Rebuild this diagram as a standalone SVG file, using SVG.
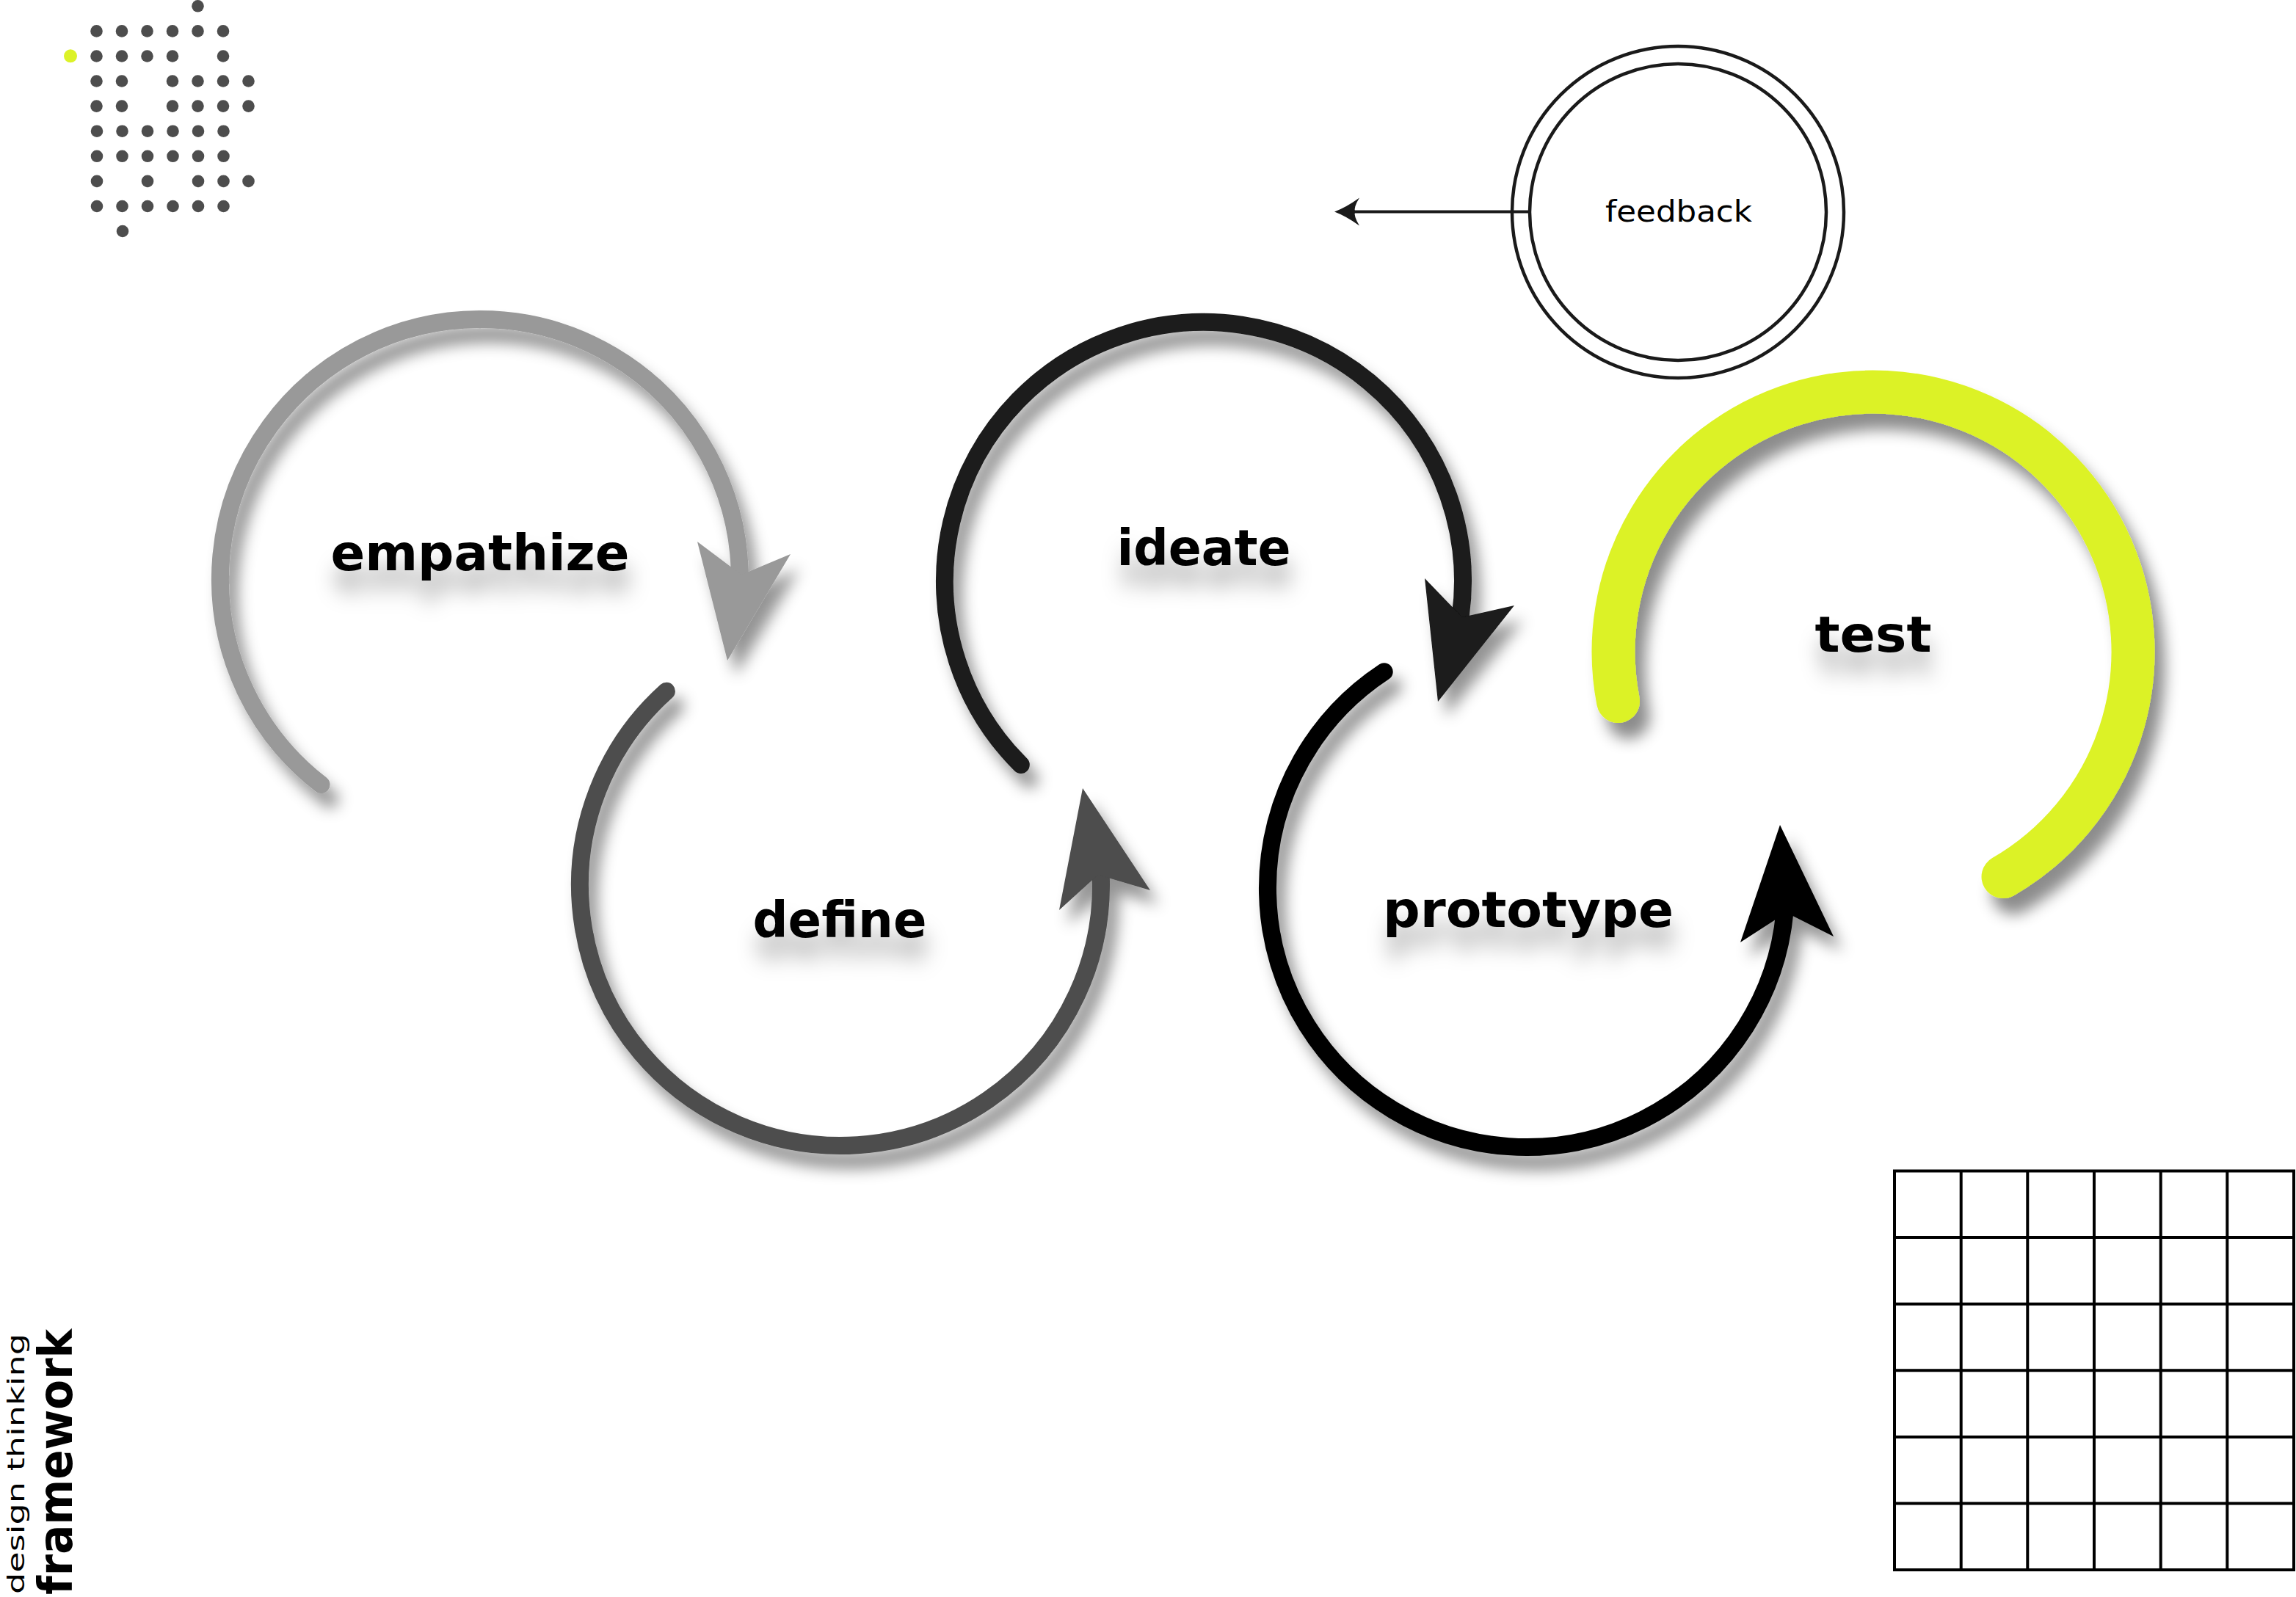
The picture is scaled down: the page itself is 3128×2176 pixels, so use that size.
<svg xmlns="http://www.w3.org/2000/svg" width="3128" height="2176" viewBox="0 0 3128 2176">
<style>
.dot{fill:#4d4d4d}
.arc{fill:none;stroke-width:24;stroke-linecap:round}
.lbl{font-family:"DejaVu Sans","Liberation Sans",sans-serif;font-weight:bold;font-size:68px;fill:#000;text-anchor:middle}
.ring{fill:none;stroke:#1a1a1a;stroke-width:4.5}
.grid{fill:none;stroke:#000;stroke-width:4}
</style>
<defs>
<filter id="sh" x="-20%" y="-20%" width="150%" height="150%">
<feDropShadow dx="12" dy="20" stdDeviation="10" flood-color="#000" flood-opacity="0.42"/>
</filter>
<filter id="shT" x="-20%" y="-20%" width="150%" height="150%">
<feDropShadow dx="14" dy="22" stdDeviation="10" flood-color="#000" flood-opacity="0.45"/>
</filter>
<filter id="tsh" x="-30%" y="-100%" width="160%" height="400%">
<feDropShadow dx="4" dy="30" stdDeviation="14" flood-color="#000" flood-opacity="0.3"/>
</filter>
<marker id="fbArrow" markerUnits="userSpaceOnUse" markerWidth="40" markerHeight="44" viewBox="-14 -22 40 44" refX="0" refY="0" orient="auto" overflow="visible">
<path d="M22,0 Q6,-6 -12,-19 Q-4,-6 -6,0 Q-4,6 -12,19 Q6,6 22,0 Z" fill="#1a1a1a"/>
</marker>
</defs>
<rect width="3128" height="2176" fill="#fff"/>

<g id="dots">
<circle cx="96" cy="76.3" r="9" fill="#dcf228"/>
<circle class="dot" cx="269.5" cy="8.3" r="8.3"/>
<circle class="dot" cx="131.5" cy="42.4" r="8.3"/><circle class="dot" cx="166" cy="42.4" r="8.3"/><circle class="dot" cx="200.5" cy="42.4" r="8.3"/><circle class="dot" cx="235" cy="42.4" r="8.3"/><circle class="dot" cx="269.5" cy="42.4" r="8.3"/><circle class="dot" cx="304" cy="42.4" r="8.3"/>
<circle class="dot" cx="131.5" cy="76.5" r="8.3"/><circle class="dot" cx="166" cy="76.5" r="8.3"/><circle class="dot" cx="200.5" cy="76.5" r="8.3"/><circle class="dot" cx="235" cy="76.5" r="8.3"/><circle class="dot" cx="304" cy="76.5" r="8.3"/>
<circle class="dot" cx="131.5" cy="110.5" r="8.3"/><circle class="dot" cx="166" cy="110.5" r="8.3"/><circle class="dot" cx="235" cy="110.5" r="8.3"/><circle class="dot" cx="269.5" cy="110.5" r="8.3"/><circle class="dot" cx="304" cy="110.5" r="8.3"/><circle class="dot" cx="338.5" cy="110.5" r="8.3"/>
<circle class="dot" cx="131.5" cy="144.6" r="8.3"/><circle class="dot" cx="166" cy="144.6" r="8.3"/><circle class="dot" cx="235" cy="144.6" r="8.3"/><circle class="dot" cx="269.5" cy="144.6" r="8.3"/><circle class="dot" cx="304" cy="144.6" r="8.3"/><circle class="dot" cx="338.5" cy="144.6" r="8.3"/>
<circle class="dot" cx="132" cy="178.7" r="8.3"/><circle class="dot" cx="166.5" cy="178.7" r="8.3"/><circle class="dot" cx="201" cy="178.7" r="8.3"/><circle class="dot" cx="235.5" cy="178.7" r="8.3"/><circle class="dot" cx="270" cy="178.7" r="8.3"/><circle class="dot" cx="304.5" cy="178.7" r="8.3"/>
<circle class="dot" cx="132" cy="212.8" r="8.3"/><circle class="dot" cx="166.5" cy="212.8" r="8.3"/><circle class="dot" cx="201" cy="212.8" r="8.3"/><circle class="dot" cx="235.5" cy="212.8" r="8.3"/><circle class="dot" cx="270" cy="212.8" r="8.3"/><circle class="dot" cx="304.5" cy="212.8" r="8.3"/>
<circle class="dot" cx="132" cy="246.9" r="8.3"/><circle class="dot" cx="201" cy="246.9" r="8.3"/><circle class="dot" cx="270" cy="246.9" r="8.3"/><circle class="dot" cx="304.5" cy="246.9" r="8.3"/><circle class="dot" cx="338.5" cy="246.9" r="8.3"/>
<circle class="dot" cx="132" cy="281" r="8.3"/><circle class="dot" cx="166.5" cy="281" r="8.3"/><circle class="dot" cx="201" cy="281" r="8.3"/><circle class="dot" cx="235.5" cy="281" r="8.3"/><circle class="dot" cx="270" cy="281" r="8.3"/><circle class="dot" cx="304.5" cy="281" r="8.3"/>
<circle class="dot" cx="167" cy="315" r="8.3"/>
</g>

<g id="feedback">
<circle class="ring" cx="2286" cy="289" r="226"/>
<circle class="ring" cx="2286" cy="289" r="202"/>
<text x="2287" y="302" font-family="DejaVu Sans, Liberation Sans, sans-serif" font-size="40" text-anchor="middle" textLength="200" lengthAdjust="spacingAndGlyphs" fill="#000">feedback</text>
</g>

<g id="empathize">
<g filter="url(#sh)">
<path class="arc" stroke="#999999" d="M437.5,1069.1 A354,354 0 1 1 1007.8,778"/>
<polygon fill="#999999" points="991,900 950,738 1010,783 1077,755"/>
</g>
<text class="lbl" filter="url(#tsh)" x="654" y="777" textLength="407" lengthAdjust="spacingAndGlyphs">empathize</text>
</g>

<g id="define">
<g filter="url(#sh)">
<path class="arc" stroke="#4d4d4d" d="M907.9,941.8 A355,355 0 1 0 1499.8,1193.6"/>
<polygon fill="#4d4d4d" points="1475,1074 1443,1240 1496,1192 1567,1213"/>
</g>
<text class="lbl" filter="url(#tsh)" x="1144" y="1277" textLength="237" lengthAdjust="spacingAndGlyphs">define</text>
</g>

<g id="ideate">
<g filter="url(#sh)">
<path class="arc" stroke="#1a1a1a" d="M1390.8,1042 A353,353 0 1 1 1989.6,840.5"/>
<polygon fill="#1a1a1a" points="1959,956 1941,788 1992,841 2063,825"/>
</g>
<text class="lbl" filter="url(#tsh)" x="1640" y="770" textLength="237" lengthAdjust="spacingAndGlyphs">ideate</text>
</g>

<g id="prototype">
<g filter="url(#sh)">
<path class="arc" stroke="#000000" d="M1885.7,915.3 A353,353 0 1 0 2431.4,1243.2"/>
<polygon fill="#000000" points="2425,1124 2371,1284 2433.6,1243.6 2498,1276"/>
</g>
<text class="lbl" filter="url(#tsh)" x="2082" y="1263" textLength="396" lengthAdjust="spacingAndGlyphs">prototype</text>
</g>

<g id="test">
<path filter="url(#shT)" fill="none" stroke="#dcf228" stroke-width="59" stroke-linecap="round" d="M2204.5,955.5 A354,354 0 1 1 2729,1194.6"/>
<text class="lbl" filter="url(#tsh)" x="2552" y="888" textLength="159" lengthAdjust="spacingAndGlyphs">test</text>
</g>

<g id="connectors">
<line x1="2084" y1="288.5" x2="1840" y2="288.5" stroke="#1a1a1a" stroke-width="4" marker-end="url(#fbArrow)"/>
</g>

<g id="grid">
<rect class="grid" x="2581" y="1595.5" width="544" height="543.5"/>
<path class="grid" d="M2671.7,1595.5V2139M2762.3,1595.5V2139M2853,1595.5V2139M2943.7,1595.5V2139M3034.3,1595.5V2139M2581,1686.1H3125M2581,1776.7H3125M2581,1867.3H3125M2581,1957.9H3125M2581,2048.5H3125"/>
</g>

<g id="title">
<text transform="translate(33,2172) rotate(-90)" font-family="DejaVu Sans, Liberation Sans, sans-serif" font-size="32" textLength="355" lengthAdjust="spacingAndGlyphs" fill="#000">design thinking</text>
<text transform="translate(98,2173) rotate(-90)" font-family="DejaVu Sans, Liberation Sans, sans-serif" font-weight="bold" font-size="64" textLength="362" lengthAdjust="spacingAndGlyphs" fill="#000">framework</text>
</g>
</svg>
